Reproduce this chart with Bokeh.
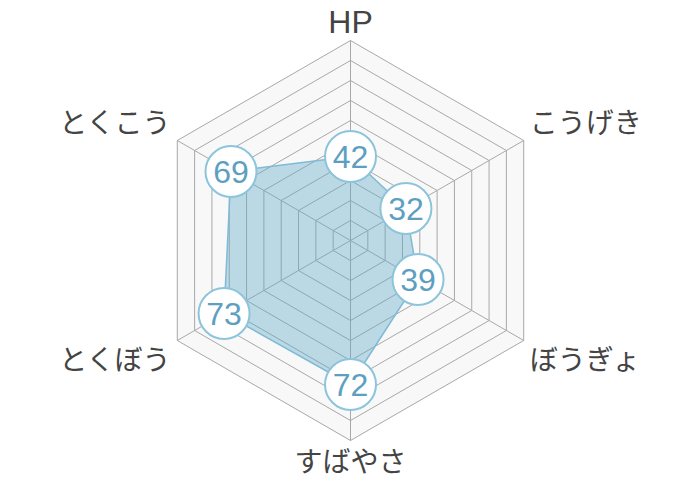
import math
from bokeh.plotting import figure
from bokeh.models import ColumnDataSource, Range1d
from bokeh.core.properties import value
from bokeh.embed import file_html
from bokeh.resources import INLINE

# ---- data ----
categories = ["HP", "こうげき", "ぼうぎょ", "すばやさ", "とくぼう", "とくこう"]
stats = [42, 32, 39, 72, 73, 69]
max_value = 100
ring_step = 10

# ---- layout ----
W, H = 700, 480
scale = 2.0  # px per unit
cx_px, cy_px = 350, 240
p = figure(width=W, height=H, output_backend="svg", toolbar_location=None,
           x_range=Range1d(-cx_px / scale, (W - cx_px) / scale),
           y_range=Range1d(-(H - cy_px) / scale, cy_px / scale),
           min_border=0)
p.axis.visible = False
p.grid.visible = False
p.outline_line_color = None
p.background_fill_color = "white"
p.border_fill_color = "white"

n = len(categories)
angles = [math.radians(90 - 360 / n * i) for i in range(n)]

def poly(r):
    return [r * math.cos(a) for a in angles], [r * math.sin(a) for a in angles]

# background hexagon
bx, by = poly(max_value)
p.patch(bx, by, fill_color="#f8f8f8", line_color=None)

# rings
for r in range(ring_step, max_value + 1, ring_step):
    xs, ys = poly(r)
    p.line(xs + xs[:1], ys + ys[:1], line_color="#a8a8a8", line_width=1)

# spokes
for a in angles:
    p.line([0, max_value * math.cos(a)], [0, max_value * math.sin(a)],
           line_color="#a8a8a8", line_width=1)

# data polygon
dx = [v * math.cos(a) for v, a in zip(stats, angles)]
dy = [v * math.sin(a) for v, a in zip(stats, angles)]
p.patch(dx, dy, fill_color="#5fa7c9", fill_alpha=0.4,
        line_color="#7fbad6", line_width=1.5)

# value bubbles
src = ColumnDataSource(dict(x=dx, y=dy, t=[str(v) for v in stats]))
p.scatter("x", "y", source=src, size=51, marker="circle",
          fill_color="white", line_color="#8cc4dc", line_width=2)
p.text("x", "y", text="t", source=src, text_align="center",
       text_baseline="middle", text_font=value("Liberation Sans"),
       text_font_size="32px", text_color="#5e9fc1")

# category labels
lat = dict(x=[], y=[], t=[], a=[])   # latin labels
cjk = dict(x=[], y=[], t=[], a=[])   # japanese labels
for a, name in zip(angles, categories):
    c, s = math.cos(a), math.sin(a)
    x = max_value * c
    y = max_value * s
    if abs(c) > 0.1:
        x += (6 / scale) * (1 if c > 0 else -1)
        y += (20 / scale) if s > 0 else -(17 / scale)
        al = "left" if c > 0 else "right"
    elif s > 0:
        y += 19 / scale
        al = "center"
    else:
        y -= 19 / scale
        al = "center"
    d = lat if name.isascii() else cjk
    d["x"].append(x); d["y"].append(y); d["t"].append(name); d["a"].append(al)

p.text("x", "y", text="t", source=ColumnDataSource(cjk), text_align="a",
       text_baseline="middle", text_font=value("Noto Sans CJK JP"),
       text_font_size="28px", text_color="#444444")
p.text("x", "y", text="t", source=ColumnDataSource(lat), text_align="a",
       text_baseline="middle", text_font=value("Liberation Sans"),
       text_font_size="32px", text_color="#444444")

open("out.html", "w").write(file_html(p, INLINE))
